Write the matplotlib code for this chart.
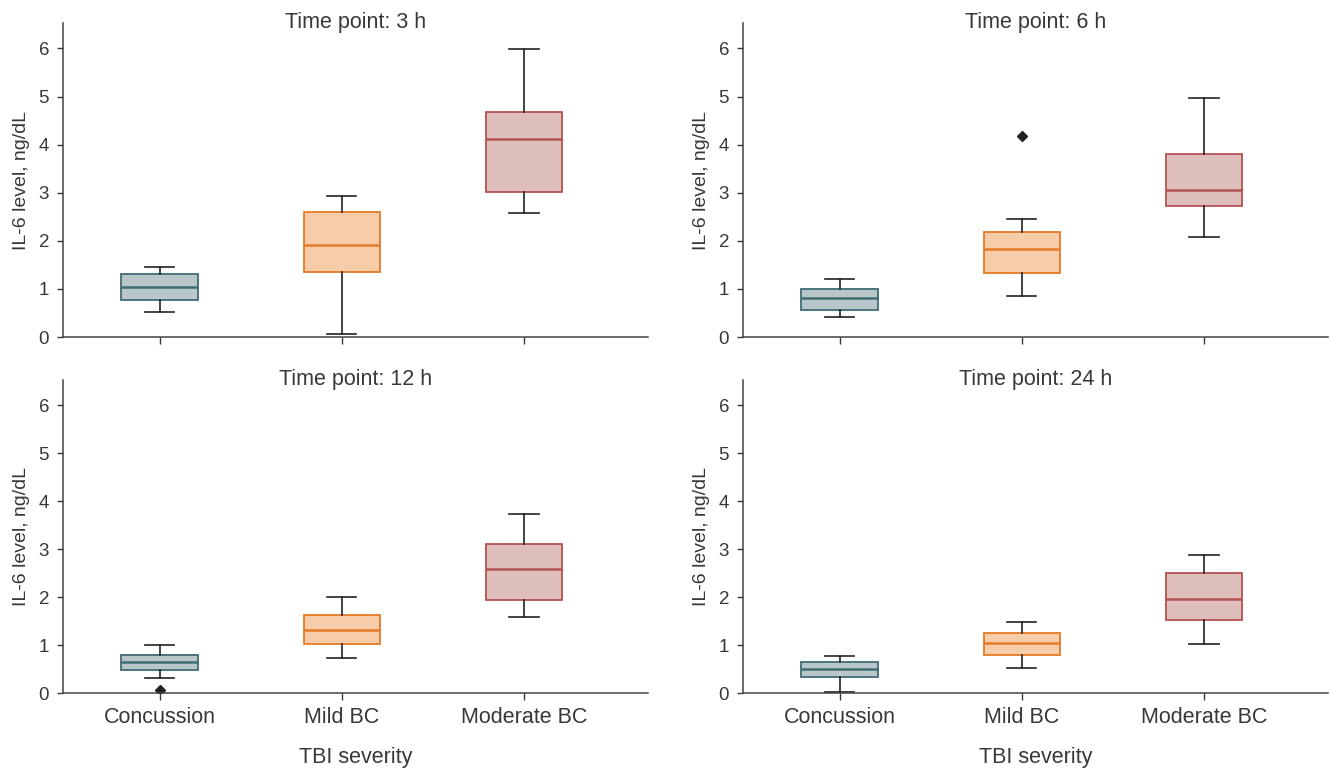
import matplotlib.pyplot as plt

# カテゴリとデータ（図から読み取った箱ひげ図の統計値）
categories = ['Concussion', 'Mild BC', 'Moderate BC']
time_points = ['3 h', '6 h', '12 h', '24 h']

# 各時点: [whislo, q1, med, q3, whishi] をカテゴリ順に
stats_3h = [[0.51, 0.76, 1.03, 1.31, 1.46],
            [0.07, 1.36, 1.92, 2.59, 2.93],
            [2.57, 3.01, 4.11, 4.68, 5.99]]
stats_6h = [[0.42, 0.57, 0.81, 1.00, 1.20],
            [0.85, 1.33, 1.84, 2.18, 2.46],
            [2.08, 2.73, 3.06, 3.81, 4.96]]
stats_12h = [[0.31, 0.49, 0.65, 0.80, 1.00],
             [0.72, 1.03, 1.31, 1.63, 2.00],
             [1.59, 1.94, 2.58, 3.11, 3.73]]
stats_24h = [[0.02, 0.34, 0.51, 0.64, 0.78],
             [0.53, 0.79, 1.05, 1.26, 1.49],
             [1.02, 1.52, 1.96, 2.50, 2.88]]

# 外れ値
fliers_3h = [[], [], []]
fliers_6h = [[], [4.17], []]
fliers_12h = [[0.055], [], []]
fliers_24h = [[], [], []]

all_stats = [stats_3h, stats_6h, stats_12h, stats_24h]
all_fliers = [fliers_3h, fliers_6h, fliers_12h, fliers_24h]

# 色設定
face_colors = ['#b9c6ca', '#f6cca9', '#dfbfbc']
edge_colors = ['#3f6d74', '#e67a26', '#b55252']
text_color = '#383838'

plt.rcParams['font.family'] = ['Liberation Sans', 'DejaVu Sans']
plt.rcParams['text.color'] = text_color
plt.rcParams['axes.labelcolor'] = text_color
plt.rcParams['xtick.color'] = text_color
plt.rcParams['ytick.color'] = text_color

fig = plt.figure(figsize=(13.31, 7.69), dpi=100)
W, H = 1331, 769

# 軸の位置（ピクセル）: left, right, top, bottom
boxes_px = [(63, 648, 23, 337), (743, 1328, 23, 337),
            (63, 648, 380, 693), (743, 1328, 380, 693)]

for i, (l, r, t, b) in enumerate(boxes_px):
    ax = fig.add_axes([l / W, 1 - b / H, (r - l) / W, (b - t) / H])
    bxp_stats = []
    for j, s in enumerate(all_stats[i]):
        bxp_stats.append({'whislo': s[0], 'q1': s[1], 'med': s[2],
                          'q3': s[3], 'whishi': s[4],
                          'fliers': all_fliers[i][j]})
    bp = ax.bxp(bxp_stats, positions=range(len(categories)), widths=0.42,
                patch_artist=True, showfliers=True, capwidths=0.16)
    for j in range(len(categories)):
        bp['boxes'][j].set_facecolor(face_colors[j])
        bp['boxes'][j].set_edgecolor(edge_colors[j])
        bp['boxes'][j].set_linewidth(1.3)
        bp['medians'][j].set_color(edge_colors[j])
        bp['medians'][j].set_linewidth(1.8)
    for w in bp['whiskers'] + bp['caps']:
        w.set_color('#222222')
        w.set_linewidth(1.2)
    for f in bp['fliers']:
        f.set_marker('D')
        f.set_markerfacecolor('#222222')
        f.set_markeredgecolor('#222222')
        f.set_markersize(5)

    ax.set_xlim(-0.53, 2.68)
    ax.set_ylim(0, 6.53)
    ax.set_yticks(range(0, 7))
    ax.set_xticks(range(len(categories)))
    ax.spines['top'].set_visible(False)
    ax.spines['right'].set_visible(False)
    for sp in ['left', 'bottom']:
        ax.spines[sp].set_color('#444444')
        ax.spines[sp].set_linewidth(1.1)
    ax.tick_params(axis='y', direction='out', length=4, width=1.0,
                   pad=6, labelsize=13.5)
    ax.tick_params(axis='x', direction='out', length=5, width=1.0,
                   pad=5, labelsize=15.5)
    ax.set_ylabel('IL-6 level, ng/dL', fontsize=14, labelpad=6)
    ax.set_title(f'Time point: {time_points[i]}', fontsize=15.5,
                 y=0.984, pad=0)
    if i < 2:
        ax.set_xticklabels([])
    else:
        ax.set_xticklabels(categories)
        ax.set_xlabel('TBI severity', fontsize=15.5, labelpad=14)

plt.savefig('out.png', dpi=100)
plt.close()
